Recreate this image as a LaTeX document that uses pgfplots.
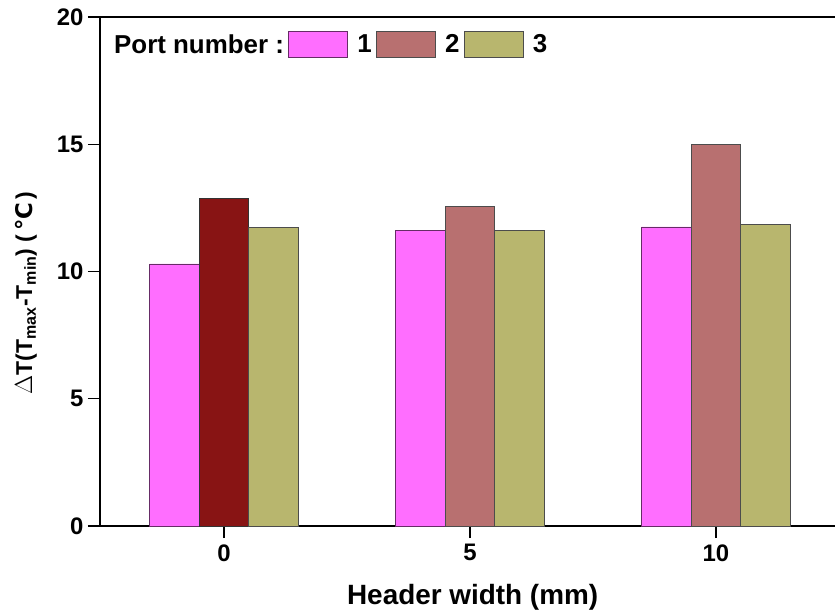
\documentclass[border=0pt]{standalone}
\usepackage{pgfplots}
\pgfplotsset{compat=1.18}
\usepackage{fontspec}
\setmainfont{Liberation Sans}
\newfontfamily\dejavu{DejaVu Sans}
\definecolor{cpink}{HTML}{FF6EFF}
\definecolor{cdark}{HTML}{881414}
\definecolor{crose}{HTML}{B87070}
\definecolor{colive}{HTML}{B8B66E}
\begin{document}
\begin{tikzpicture}
\begin{axis}[
  scale only axis,
  width=735bp, height=509bp,
  xmin=-2.52, xmax=12.42,
  ymin=0, ymax=20,
  axis y line*=left,
  xtick={0,5,10}, ytick={0,5,10,15,20},
  tick align=outside,
  xtick pos=bottom,
  major tick length=12bp,
  axis line style={line width=1.8bp},
  every tick/.style={line width=1.2bp, black},
  /pgf/number format/assume math mode=true,
  tick label style={font=\bfseries\fontsize{24}{28}\selectfont},
  xticklabel style={yshift=-3bp},
  yticklabel style={xshift=-1bp},
  xlabel={Header width (mm)},
  ylabel={$\Delta$T(T\textsubscript{max}-T\textsubscript{min})\ (\,{\dejavu\bfseries ℃}\,)},
  every axis x label/.style={at={(rel axis cs:0.507,0)}, anchor=center, yshift=-71bp, font=\bfseries\fontsize{28}{32}\selectfont},
  every axis y label/.style={at={(rel axis cs:-0.1007,0.458)}, rotate=90, anchor=center, font=\bfseries\fontsize{23}{27}\selectfont},
  legend style={at={(rel axis cs:0,1)}, anchor=north west, xshift=1bp, yshift=-12bp,
    draw=none, fill=none, legend columns=-1,
    font=\bfseries\fontsize{26}{30}\selectfont,
    /tikz/every odd column/.append style={column sep=8bp},
    /tikz/every even column/.append style={column sep=2bp}},
]
\coordinate (bl) at (rel axis cs:0,0);
\coordinate (tr) at (rel axis cs:1,1);
\addlegendimage{empty legend}
\addlegendentry{Port number :}
\addlegendimage{legend image code/.code={\draw[fill=cpink,draw=black!60!cpink] (0bp,-13bp) rectangle (59bp,13bp);}}
\addlegendentry{1}
\addlegendimage{legend image code/.code={\draw[fill=crose,draw=black!70] (0bp,-13bp) rectangle (59bp,13bp);}}
\addlegendentry{2}
\addlegendimage{legend image code/.code={\draw[fill=colive,draw=black!70] (0bp,-13bp) rectangle (59bp,13bp);}}
\addlegendentry{3}
\addplot[ybar, bar width=49.5bp, bar shift=-49.5bp, fill=cpink, draw=black!60!cpink, line width=0.6bp, forget plot]
  coordinates {(0,10.30) (5,11.60) (10,11.75)};
\addplot[ybar, bar width=49.5bp, bar shift=0bp, fill=cdark, draw=black!80, line width=0.6bp, forget plot]
  coordinates {(0,12.89)};
\addplot[ybar, bar width=49.5bp, bar shift=0bp, fill=crose, draw=black!70, line width=0.6bp, forget plot]
  coordinates {(5,12.57) (10,15.00)};
\addplot[ybar, bar width=49.5bp, bar shift=49.5bp, fill=colive, draw=black!70, line width=0.6bp, forget plot]
  coordinates {(0,11.74) (5,11.62) (10,11.86)};
\end{axis}
\pgfresetboundingbox
\path ([shift={(-100bp,-87bp)}]bl) rectangle ([shift={(0bp,17bp)}]tr);
\end{tikzpicture}
\end{document}
